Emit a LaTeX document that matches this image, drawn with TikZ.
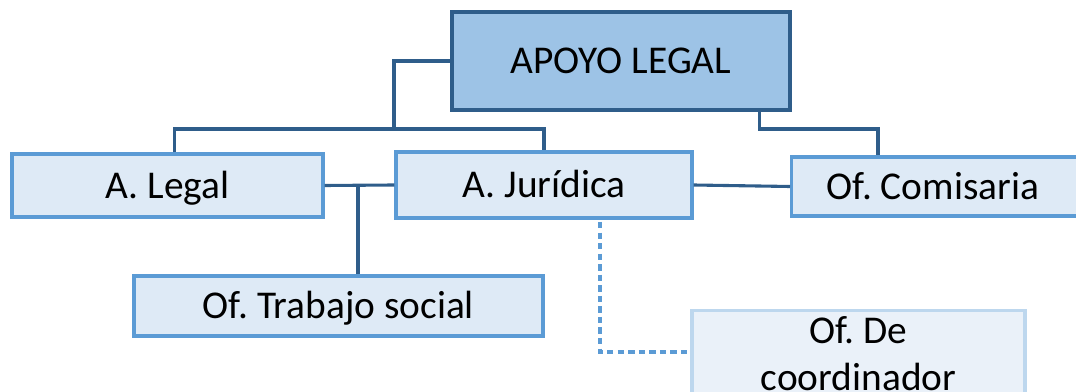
\documentclass[tikz,border=0pt]{standalone}
\usepackage{fontspec}
\setmainfont{Carlito}
\frenchspacing
\usepackage{tikz}
\usetikzlibrary{positioning, calc}
\definecolor{ApoyoAzul}{RGB}{157,195,230}
\definecolor{LineaOscura}{RGB}{47,93,138}
\definecolor{CajaAzul}{RGB}{222,234,246}
\definecolor{BordeAzul}{RGB}{91,155,213}
\definecolor{CajaClara}{RGB}{234,241,249}
\definecolor{BordeClaro}{RGB}{189,215,238}

\tikzset{
    caja/.style={shape=rectangle, line width=2.3pt, inner sep=0pt, text height=22pt, text depth=4pt,
        font=\fontsize{28}{34}\selectfont},
    jefe/.style={caja, draw=LineaOscura, fill=ApoyoAzul},
    area/.style={caja, draw=BordeAzul, fill=CajaAzul},
    apoyo/.style={caja, draw=BordeClaro, fill=CajaClara},
    enlace/.style={draw=LineaOscura, line width=2.2pt},
    punteado/.style={draw=BordeAzul, line width=2.2pt, dash pattern=on 4.5pt off 3pt}
}

\begin{document}
\begin{tikzpicture}[x=0.025cm, y=-0.025cm]
    \useasboundingbox (0,0) rectangle (1076,392);
    \node[jefe, minimum width=8.45cm, minimum height=2.45cm]   (apoyo)     at (621, 61)    {APOYO LEGAL};
    \node[area, minimum width=7.775cm, minimum height=1.575cm] (legal)     at (167.5, 185.5) {A. Legal};
    \node[area, minimum width=7.4cm, minimum height=1.65cm]    (juridica)  at (544, 185)   {A. Jurídica};
    \node[area, anchor=west, minimum height=1.475cm, inner xsep=0.875cm, text width=5.75cm, align=flush left]
        (comisaria) at (790, 186.5) {Of. Comisaria};
    \node[area, minimum width=10.225cm, minimum height=1.5cm]  (trabajo)   at (338.5, 306) {Of. Trabajo social};
    \node[apoyo, anchor=north, minimum width=8.325cm, minimum height=3cm, text width=8cm, align=flush center, text height=, text depth=2.05cm]
        (coord) at (858.5, 309) {Of. De\\coordinador};

    % lineas de mando
    \coordinate (bus)  at (394, 129);
    \coordinate (rbus) at (878, 129);
    \coordinate (tjoin) at (358, 185);
    \coordinate (dtop) at (600, 222);
    \draw[enlace] (apoyo.west) -| (bus);
    \draw[enlace] ($(legal.north)+(7,0)$) |- (juridica.north |- bus) -- (juridica.north);
    \draw[enlace] ($(apoyo.south east)+(-32,0)$) |- (rbus) -- (rbus |- comisaria.north);
    \draw[enlace] (legal.east) -- (juridica.west);
    \draw[enlace] (tjoin) -- (tjoin |- trabajo.north);
    \draw[enlace] (juridica.east) -- (comisaria.west);
    \draw[punteado] (dtop) |- ($(coord.north west)+(0,43)$);
\end{tikzpicture}
\end{document}
